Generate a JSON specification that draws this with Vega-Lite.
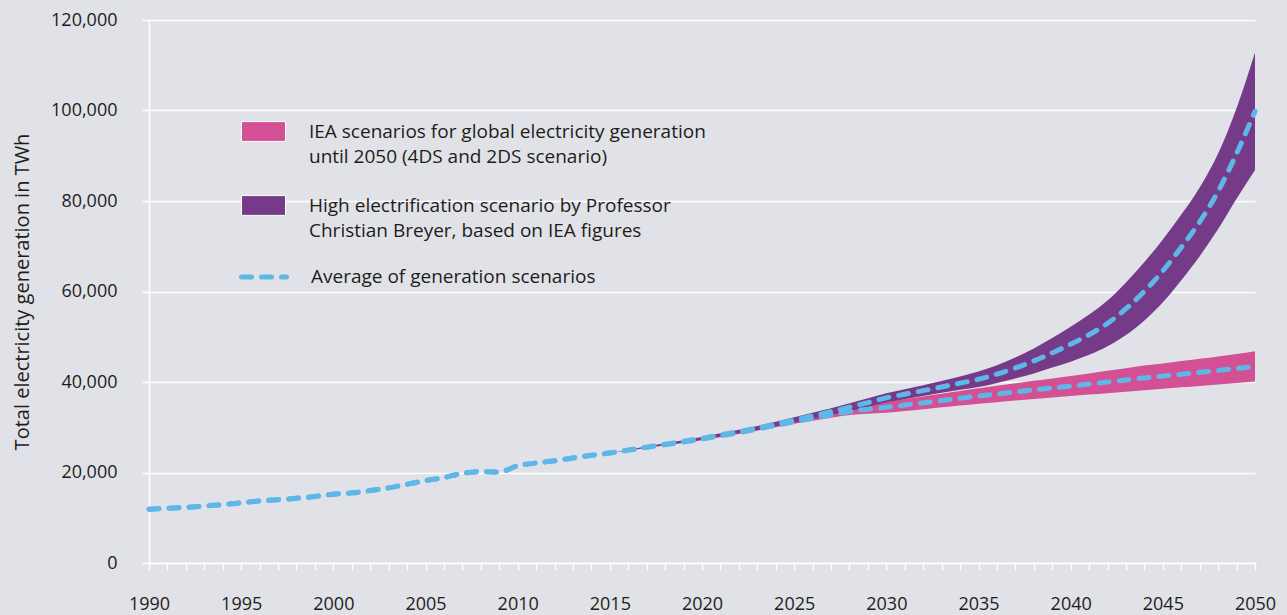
{
  "$schema": "https://vega.github.io/schema/vega-lite/v6.json",
  "width": 1106,
  "height": 543,
  "autosize": {"type": "none"},
  "padding": {"left": 149, "top": 20, "right": 32, "bottom": 52},
  "background": "#e1e2e7",
  "config": {
    "view": {"stroke": null},
    "font": "Open Sans",
    "axis": {"labelFont": "Open Sans", "titleFont": "Open Sans", "labelColor": "#1d1d1b", "titleColor": "#1d1d1b", "titleFontWeight": "normal"},
    "legend": {"labelFont": "Open Sans", "labelColor": "#1d1d1b"}
  },
  "data": {
    "values": [
      {"year": 1990, "iea_avg": 11900, "br_avg": 11900},
      {"year": 1991, "iea_avg": 12100, "br_avg": 12100},
      {"year": 1992, "iea_avg": 12300, "br_avg": 12300},
      {"year": 1993, "iea_avg": 12600, "br_avg": 12600},
      {"year": 1994, "iea_avg": 12900, "br_avg": 12900},
      {"year": 1995, "iea_avg": 13300, "br_avg": 13300},
      {"year": 1996, "iea_avg": 13700, "br_avg": 13700},
      {"year": 1997, "iea_avg": 14000, "br_avg": 14000},
      {"year": 1998, "iea_avg": 14300, "br_avg": 14300},
      {"year": 1999, "iea_avg": 14700, "br_avg": 14700},
      {"year": 2000, "iea_avg": 15200, "br_avg": 15200},
      {"year": 2001, "iea_avg": 15500, "br_avg": 15500},
      {"year": 2002, "iea_avg": 16000, "br_avg": 16000},
      {"year": 2003, "iea_avg": 16600, "br_avg": 16600},
      {"year": 2004, "iea_avg": 17400, "br_avg": 17400},
      {"year": 2005, "iea_avg": 18200, "br_avg": 18200},
      {"year": 2006, "iea_avg": 18900, "br_avg": 18900},
      {"year": 2007, "iea_avg": 19800, "br_avg": 19800},
      {"year": 2008, "iea_avg": 20200, "br_avg": 20200},
      {"year": 2009, "iea_avg": 20100, "br_avg": 20100},
      {"year": 2010, "iea_avg": 21500, "br_avg": 21500},
      {"year": 2011, "iea_avg": 22100, "br_avg": 22100},
      {"year": 2012, "iea_avg": 22600, "br_avg": 22600},
      {"year": 2013, "iea_avg": 23200, "br_avg": 23200},
      {"year": 2014, "iea_avg": 23800, "br_avg": 23800},
      {"year": 2015, "iea_lo": 24300, "iea_hi": 24300, "iea_avg": 24300, "br_lo": 24300, "br_hi": 24300, "br_avg": 24300},
      {"year": 2016, "iea_lo": 24850, "iea_hi": 25050, "iea_avg": 24950, "br_lo": 24850, "br_hi": 25050, "br_avg": 24950},
      {"year": 2017, "iea_lo": 25400, "iea_hi": 25700, "iea_avg": 25550, "br_lo": 25450, "br_hi": 25750, "br_avg": 25600},
      {"year": 2018, "iea_lo": 25950, "iea_hi": 26350, "iea_avg": 26150, "br_lo": 26050, "br_hi": 26450, "br_avg": 26250},
      {"year": 2019, "iea_lo": 26500, "iea_hi": 27000, "iea_avg": 26750, "br_lo": 26650, "br_hi": 27150, "br_avg": 26900},
      {"year": 2020, "iea_lo": 27100, "iea_hi": 27700, "iea_avg": 27400, "br_lo": 27250, "br_hi": 27850, "br_avg": 27550},
      {"year": 2021, "iea_lo": 27800, "iea_hi": 28400, "iea_avg": 28100, "br_lo": 27950, "br_hi": 28650, "br_avg": 28300},
      {"year": 2022, "iea_lo": 28500, "iea_hi": 29100, "iea_avg": 28800, "br_lo": 28650, "br_hi": 29450, "br_avg": 29050},
      {"year": 2023, "iea_lo": 29250, "iea_hi": 29950, "iea_avg": 29600, "br_lo": 29400, "br_hi": 30300, "br_avg": 29850},
      {"year": 2024, "iea_lo": 30000, "iea_hi": 30800, "iea_avg": 30400, "br_lo": 30200, "br_hi": 31200, "br_avg": 30700},
      {"year": 2025, "iea_lo": 30750, "iea_hi": 31650, "iea_avg": 31200, "br_lo": 31000, "br_hi": 32200, "br_avg": 31600},
      {"year": 2026, "iea_lo": 31450, "iea_hi": 32550, "iea_avg": 32000, "br_lo": 31800, "br_hi": 33200, "br_avg": 32500},
      {"year": 2027, "iea_lo": 32100, "iea_hi": 33400, "iea_avg": 32750, "br_lo": 32700, "br_hi": 34200, "br_avg": 33450},
      {"year": 2028, "iea_lo": 32700, "iea_hi": 34200, "iea_avg": 33450, "br_lo": 33600, "br_hi": 35300, "br_avg": 34450},
      {"year": 2029, "iea_lo": 33000, "iea_hi": 35000, "iea_avg": 34000, "br_lo": 34500, "br_hi": 36400, "br_avg": 35450},
      {"year": 2030, "iea_lo": 33200, "iea_hi": 35600, "iea_avg": 34400, "br_lo": 35500, "br_hi": 37500, "br_avg": 36500},
      {"year": 2031, "iea_lo": 33600, "iea_hi": 36200, "iea_avg": 34900, "br_lo": 36200, "br_hi": 38400, "br_avg": 37300},
      {"year": 2032, "iea_lo": 34000, "iea_hi": 36800, "iea_avg": 35400, "br_lo": 36900, "br_hi": 39300, "br_avg": 38100},
      {"year": 2033, "iea_lo": 34400, "iea_hi": 37400, "iea_avg": 35900, "br_lo": 37600, "br_hi": 40200, "br_avg": 38900},
      {"year": 2034, "iea_lo": 34800, "iea_hi": 38000, "iea_avg": 36400, "br_lo": 38300, "br_hi": 41200, "br_avg": 39750},
      {"year": 2035, "iea_lo": 35200, "iea_hi": 38600, "iea_avg": 36900, "br_lo": 38900, "br_hi": 42300, "br_avg": 40600},
      {"year": 2036, "iea_lo": 35550, "iea_hi": 39150, "iea_avg": 37350, "br_lo": 39800, "br_hi": 43700, "br_avg": 41750},
      {"year": 2037, "iea_lo": 35900, "iea_hi": 39700, "iea_avg": 37800, "br_lo": 40800, "br_hi": 45400, "br_avg": 43100},
      {"year": 2038, "iea_lo": 36250, "iea_hi": 40250, "iea_avg": 38250, "br_lo": 41900, "br_hi": 47400, "br_avg": 44650},
      {"year": 2039, "iea_lo": 36600, "iea_hi": 40800, "iea_avg": 38700, "br_lo": 43200, "br_hi": 49700, "br_avg": 46450},
      {"year": 2040, "iea_lo": 36900, "iea_hi": 41300, "iea_avg": 39100, "br_lo": 44500, "br_hi": 52200, "br_avg": 48350},
      {"year": 2041, "iea_lo": 37220, "iea_hi": 41880, "iea_avg": 39550, "br_lo": 46000, "br_hi": 54900, "br_avg": 50450},
      {"year": 2042, "iea_lo": 37540, "iea_hi": 42460, "iea_avg": 40000, "br_lo": 47900, "br_hi": 58000, "br_avg": 52950},
      {"year": 2043, "iea_lo": 37860, "iea_hi": 43040, "iea_avg": 40450, "br_lo": 50400, "br_hi": 62000, "br_avg": 56200},
      {"year": 2044, "iea_lo": 38180, "iea_hi": 43620, "iea_avg": 40900, "br_lo": 53600, "br_hi": 66500, "br_avg": 60050},
      {"year": 2045, "iea_lo": 38500, "iea_hi": 44100, "iea_avg": 41300, "br_lo": 57600, "br_hi": 71500, "br_avg": 64550},
      {"year": 2046, "iea_lo": 38820, "iea_hi": 44620, "iea_avg": 41720, "br_lo": 62500, "br_hi": 77000, "br_avg": 69750},
      {"year": 2047, "iea_lo": 39140, "iea_hi": 45140, "iea_avg": 42140, "br_lo": 67800, "br_hi": 83000, "br_avg": 75400},
      {"year": 2048, "iea_lo": 39460, "iea_hi": 45660, "iea_avg": 42560, "br_lo": 73800, "br_hi": 90500, "br_avg": 82150},
      {"year": 2049, "iea_lo": 39780, "iea_hi": 46200, "iea_avg": 42980, "br_lo": 80500, "br_hi": 100500, "br_avg": 90500},
      {"year": 2050, "iea_lo": 40100, "iea_hi": 46800, "iea_avg": 43400, "br_lo": 86850, "br_hi": 112800, "br_avg": 99800}
    ]
  },
  "encoding": {
    "x": {
      "field": "year",
      "type": "quantitative",
      "scale": {"domain": [1990, 2050], "nice": false, "zero": false},
      "axis": {
        "title": null,
        "grid": false,
        "values": [1990,1991,1992,1993,1994,1995,1996,1997,1998,1999,2000,2001,2002,2003,2004,2005,2006,2007,2008,2009,2010,2011,2012,2013,2014,2015,2016,2017,2018,2019,2020,2021,2022,2023,2024,2025,2026,2027,2028,2029,2030,2031,2032,2033,2034,2035,2036,2037,2038,2039,2040,2041,2042,2043,2044,2045,2046,2047,2048,2049,2050],
        "labelExpr": "datum.value % 5 === 0 ? format(datum.value, 'd') : ''",
        "labelOverlap": false,
        "labelFlush": false,
        "labelBound": false,
        "labelFontSize": 18,
        "labelPadding": 25,
        "domainColor": "#ffffff",
        "domainWidth": 1.5,
        "tickColor": "#ffffff",
        "tickWidth": 1.5,
        "tickSize": 7
      }
    }
  },
  "layer": [
    {
      "mark": {"type": "area", "opacity": 1, "interpolate": "monotone"},
      "encoding": {
        "y": {
          "field": "iea_lo",
          "type": "quantitative",
          "scale": {"domain": [0, 120000], "nice": false},
          "axis": {
            "title": "Total electricity generation in TWh",
            "titleFontSize": 20,
            "titlePadding": 18,
            "values": [0, 20000, 40000, 60000, 80000, 100000, 120000],
            "format": ",d",
            "labelFontSize": 18,
            "labelPadding": 25,
            "grid": true,
            "gridColor": "#ffffff",
            "gridWidth": 1.5,
            "domainColor": "#ffffff",
            "domainWidth": 1.5,
            "tickColor": "#ffffff",
            "tickWidth": 1.5,
            "tickSize": 7
          }
        },
        "y2": {"field": "iea_hi"},
        "color": {
          "datum": "IEA scenarios for global electricity generation|until 2050 (4DS and 2DS scenario)",
          "type": "nominal",
          "scale": {
            "domain": ["IEA scenarios for global electricity generation|until 2050 (4DS and 2DS scenario)", "High electrification scenario by Professor|Christian Breyer, based on IEA figures"],
            "range": ["#d45094", "#753a88"]
          },
          "legend": {
            "title": null,
            "orient": "none",
            "legendX": 92,
            "legendY": 89,
            "padding": 0,
            "symbolType": "M-1,-0.45L1,-0.45L1,0.45L-1,0.45Z",
            "symbolSize": 1936,
            "symbolStrokeColor": "#ffffff",
            "symbolStrokeWidth": 1,
            "symbolOpacity": 1,
            "labelFontSize": 19,
            "labelOffset": 23,
            "labelLimit": 0,
            "rowPadding": 16,
            "labelBaseline": "middle",
            "labelExpr": "split(datum.label, '|')",
            "encoding": {"labels": {"lineHeight": {"value": 25}}}
          }
        }
      }
    },
    {
      "mark": {"type": "area", "opacity": 1, "interpolate": "monotone"},
      "encoding": {
        "y": {"field": "br_lo", "type": "quantitative"},
        "y2": {"field": "br_hi"},
        "color": {"datum": "High electrification scenario by Professor|Christian Breyer, based on IEA figures", "type": "nominal"}
      }
    },
    {
      "mark": {"type": "line", "color": "#5eb7e6", "strokeWidth": 5, "strokeCap": "round", "interpolate": "monotone"},
      "encoding": {
        "y": {"field": "iea_avg", "type": "quantitative"},
        "strokeDash": {
          "datum": "Average of generation scenarios",
          "type": "nominal",
          "scale": {"domain": ["Average of generation scenarios"], "range": [[10, 10]]},
          "legend": {
            "title": null,
            "orient": "none",
            "legendX": 90,
            "legendY": 232,
            "padding": 0,
            "symbolType": "stroke",
            "symbolSize": 2025,
            "symbolStrokeColor": "#5eb7e6",
            "symbolStrokeWidth": 5,
            "labelFontSize": 19,
            "labelOffset": 22,
            "labelLimit": 0,
            "encoding": {"symbols": {"strokeCap": {"value": "round"}, "strokeDash": {"value": [15, 15]}}}
          }
        }
      }
    },
    {
      "mark": {"type": "line", "color": "#5eb7e6", "strokeWidth": 5, "strokeCap": "round", "interpolate": "monotone"},
      "encoding": {
        "y": {"field": "br_avg", "type": "quantitative"},
        "strokeDash": {"datum": "Average of generation scenarios", "type": "nominal"}
      }
    }
  ]
}
